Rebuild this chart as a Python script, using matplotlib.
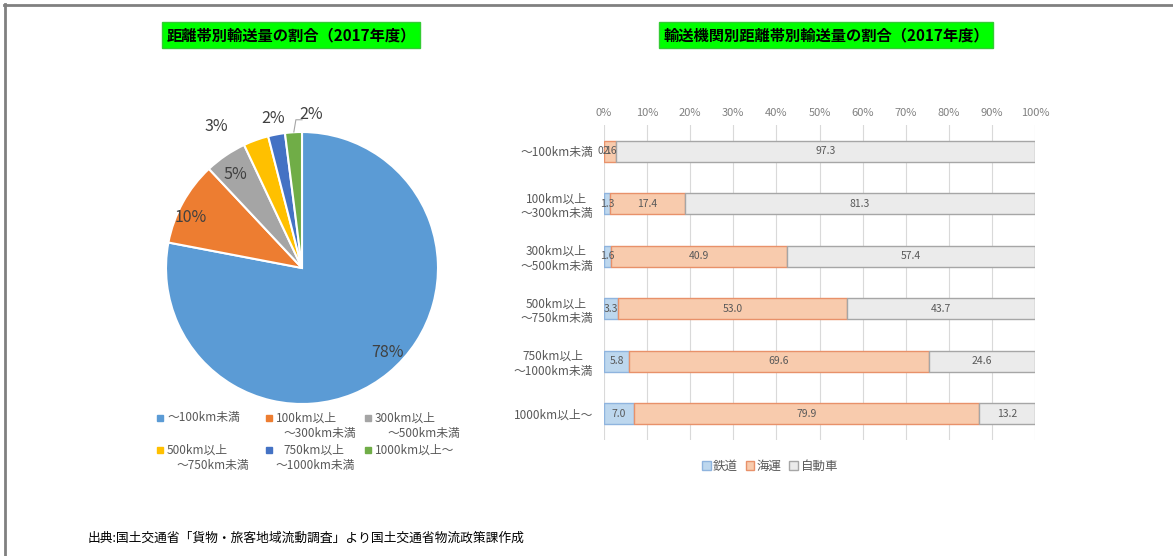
import numpy as np
import matplotlib
matplotlib.use("Agg")
import matplotlib.pyplot as plt
from matplotlib.lines import Line2D
from matplotlib.patches import Patch

plt.rcParams['font.family'] = ['Noto Sans CJK JP', 'DejaVu Sans']

# pie data
pie_labels = [('～100km未満', ''), ('100km以上', '～300km未満'), ('300km以上', '～500km未満'),
              ('500km以上', '～750km未満'), ('750km以上', '～1000km未満'), ('1000km以上～', '')]
pie_values = [78, 10, 5, 3, 2, 2]
pie_colors = ['#5B9BD5', '#ED7D31', '#A5A5A5', '#FFC000', '#4472C4', '#70AD47']
# label positions (pie data units)
pie_label_pos = [(0.63, -0.62), (-0.82, 0.37), (-0.49, 0.69), (-0.63, 1.04), (-0.21, 1.10), (0.07, 1.13)]

# bar data
bar_cats = ['～100km未満', '100km以上\n～300km未満', '300km以上\n～500km未満',
            '500km以上\n～750km未満', '750km以上\n～1000km未満', '1000km以上～']
rail = [0.1, 1.3, 1.6, 3.3, 5.8, 7.0]
sea = [2.6, 17.4, 40.9, 53.0, 69.6, 79.9]
truck = [97.3, 81.3, 57.4, 43.7, 24.6, 13.2]
modes = ['鉄道', '海運', '自動車']
mode_fill = ['#BDD7EE', '#F8CBAD', '#EBEBEB']
mode_edge = ['#8FB4DE', '#E8916A', '#A6A6A6']

W, H = 1173, 556
fig = plt.figure(figsize=(W / 100, H / 100), dpi=100)
fig.patch.set_facecolor('white')

def fx(px):
    return px / W

def fy(py):
    return 1 - py / H

# frame lines (top/left)
fig.add_artist(Line2D([fx(4), 1], [fy(5), fy(5)], color='#808080', lw=2))
fig.add_artist(Line2D([fx(5), fx(5)], [0, fy(4)], color='#808080', lw=2))

# ---------- pie ----------
cx, cy, r = 302, 268, 136
pax = fig.add_axes([fx(cx - r), fy(cy + r), 2 * r / W, 2 * r / H])
wedges, _ = pax.pie(pie_values, colors=pie_colors, startangle=90, counterclock=False,
                    radius=1, wedgeprops=dict(edgecolor='white', linewidth=1.5))
pax.set_xlim(-1, 1)
pax.set_ylim(-1, 1)
for v, (lx, ly) in zip(pie_values, pie_label_pos):
    pax.text(lx, ly, f'{v}%', ha='center', va='center', fontsize=11.5, color='#404040',
             clip_on=False)
# leader line for the last small slice
pax.plot([-0.06, -0.045, 0.0], [1.0, 1.09, 1.09], color='#A6A6A6', lw=0.8, clip_on=False)

# pie legend, row-first, drawn by hand so the text hangs from the marker line
col_x = [160, 269, 368]
row_y = [418, 450]
indent1 = [0, 0, 0, 0, 7, 0]
indent2 = [0, 8, 12, 10, -1, 0]
for i, ((l1, l2), c) in enumerate(zip(pie_labels, pie_colors)):
    mx, my = col_x[i % 3], row_y[i // 3]
    fig.add_artist(Line2D([fx(mx)], [fy(my)], marker='s', markersize=4, color=c, ls=''))
    fig.text(fx(mx + 7 + indent1[i]), fy(my), l1, ha='left', va='center',
             fontsize=8.5, color='#595959')
    if l2:
        fig.text(fx(mx + 7 + indent2[i]), fy(my + 15), l2, ha='left', va='center',
                 fontsize=8.5, color='#595959')

# ---------- stacked bars ----------
x0, x1, y0, y1 = 604, 1035, 125, 440
bax = fig.add_axes([fx(x0), fy(y1), (x1 - x0) / W, (y1 - y0) / H])
ypos = np.arange(len(bar_cats))
left = np.zeros(len(bar_cats))
for vals, fc, ec, name in zip([rail, sea, truck], mode_fill, mode_edge, modes):
    bars = bax.barh(ypos, vals, left=left, height=0.4, color=fc, edgecolor=ec,
                    linewidth=1, label=name, zorder=3)
    bax.bar_label(bars, labels=[f'{v:.1f}' for v in vals], label_type='center',
                  fontsize=7.5, color='#595959', zorder=4)
    left += np.array(vals)

bax.set_xlim(0, 100)
bax.set_ylim(len(bar_cats) - 0.5, -0.5)
bax.set_xticks(np.arange(0, 101, 10))
bax.set_xticklabels([f'{t}%' for t in range(0, 101, 10)])
bax.xaxis.tick_top()
bax.tick_params(axis='x', length=0, pad=5, labelsize=8, labelcolor='#808080')
bax.set_yticks(ypos)
bax.set_yticklabels(bar_cats, multialignment='center')
bax.tick_params(axis='y', length=0, pad=8, labelsize=8.5, labelcolor='#595959')
bax.grid(axis='x', color='#D9D9D9', lw=0.8, zorder=0)
for s in bax.spines.values():
    s.set_visible(False)

leg_cx = (770 - x0) / (x1 - x0)
bax.legend(handles=[Patch(facecolor=fc, edgecolor=ec) for fc, ec in zip(mode_fill, mode_edge)],
           labels=modes, ncol=3, frameon=False, loc='center',
           bbox_to_anchor=(leg_cx, -(466 - y1) / (y1 - y0)), fontsize=9,
           labelcolor='#595959', handlelength=0.7, handleheight=0.7,
           handletextpad=0.2, columnspacing=0.6)

# ---------- titles ----------
title_box = dict(facecolor='#00FF00', edgecolor='#33CC33', boxstyle='square,pad=0.3')
fig.text(fx(291), fy(35), '距離帯別輸送量の割合（2017年度）', ha='center', va='center',
         fontsize=11, fontweight='bold', color='black', bbox=title_box)
fig.text(fx(826), fy(35), '輸送機関別距離帯別輸送量の割合（2017年度）', ha='center', va='center',
         fontsize=11, fontweight='bold', color='black', bbox=title_box)

fig.text(fx(88), fy(538), '出典:国土交通省「貨物・旅客地域流動調査」より国土交通省物流政策課作成',
         ha='left', va='center', fontsize=9.2, color='black')

fig.savefig('out.png', dpi=100, facecolor='white')
